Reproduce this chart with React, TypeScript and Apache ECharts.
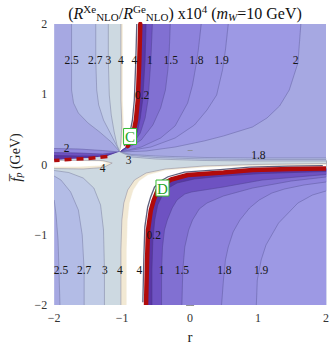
import React, { useEffect, useRef } from 'react';
import * as echarts from 'echarts';

type P = [number, number];

// ---------- axis ----------
const AXIS_MIN = -2;
const AXIS_MAX = 2;
const AXIS_STEP = 1;

// ---------- red curves (ratio -> 0) ----------
const R1_UP: P[] = [[-0.733, 2.0], [-0.747, 1.488], [-0.769, 0.918], [-0.797, 0.633], [-0.840, 0.420], [-0.918, 0.263], [-1.032, 0.178]];
const R1_LEFT: P[] = [[-1.217, 0.114], [-1.502, 0.085], [-1.786, 0.071], [-2.0, 0.057]];
const R2: P[] = [[-0.648, -2.0], [-0.633, -1.359], [-0.619, -0.932], [-0.577, -0.648], [-0.534, -0.505], [-0.477, -0.363], [-0.391, -0.278], [-0.278, -0.214], [-0.036, -0.149], [0.491, -0.114], [0.918, -0.078], [1.488, -0.064], [2.0, -0.057]];

// ---------- upper-left contours (2.5, 2.7, 3, 4, >4) ----------
const UL_25: P[] = [[-1.744, 2.0], [-1.744, 1.488], [-1.744, 1.060], [-1.715, 0.875], [-1.644, 0.733], [-1.502, 0.591], [-1.331, 0.463], [-1.160, 0.320], [-1.032, 0.178]];
const UL_27: P[] = [[-1.388, 2.0], [-1.388, 1.488], [-1.374, 1.060], [-1.345, 0.847], [-1.274, 0.633], [-1.160, 0.420], [-1.032, 0.178]];
const UL_3: P[] = [[-1.203, 2.0], [-1.203, 1.488], [-1.189, 0.989], [-1.160, 0.705], [-1.117, 0.463], [-1.075, 0.278], [-1.032, 0.178]];
const UL_4: P[] = [[-1.018, 2.0], [-1.018, 1.488], [-1.018, 0.918], [-1.004, 0.562], [-1.018, 0.320], [-1.032, 0.178]];
const UL_INF: P[] = [[-0.989, 2.0], [-0.989, 0.918], [-0.975, 0.562], [-0.989, 0.320], [-1.032, 0.178]];

// ---------- left band above the red curve (2, 1.5, 0.2) ----------
const BAND_2: P[] = [[-2.0, 0.228], [-1.644, 0.221], [-1.288, 0.199], [-1.032, 0.178]];
const BAND_15: P[] = [[-2.0, 0.171], [-1.644, 0.164], [-1.288, 0.149], [-1.032, 0.178]];
const BAND_02: P[] = [[-2.0, 0.128], [-1.644, 0.121], [-1.288, 0.121], [-1.032, 0.178]];

// ---------- upper-right contours (2, 1.9, 1.8, 1.5, 1, 0.2) ----------
const UR_2: P[] = [[1.630, 2.0], [1.587, 1.445], [1.459, 1.060], [1.317, 0.833], [1.132, 0.662], [0.918, 0.534], [0.491, 0.406], [0.206, 0.335], [-0.221, 0.249], [-0.648, 0.192], [-1.032, 0.178]];
const UR_19: P[] = [[0.562, 2.0], [0.520, 1.630], [0.477, 1.345], [0.391, 0.989], [0.249, 0.776], [0.064, 0.562], [-0.221, 0.377], [-0.577, 0.249], [-1.032, 0.178]];
const UR_18: P[] = [[0.164, 2.0], [0.121, 1.630], [0.093, 1.445], [0.036, 1.132], [-0.036, 0.875], [-0.221, 0.548], [-0.434, 0.377], [-0.719, 0.249], [-1.032, 0.178]];
const UR_15: P[] = [[-0.292, 2.0], [-0.306, 1.630], [-0.327, 1.345], [-0.363, 1.060], [-0.434, 0.804], [-0.548, 0.562], [-0.719, 0.349], [-0.932, 0.221], [-1.032, 0.178]];
const UR_1: P[] = [[-0.555, 2.0], [-0.577, 1.488], [-0.619, 0.918], [-0.662, 0.662], [-0.733, 0.448], [-0.847, 0.292], [-1.032, 0.178]];
const UR_02: P[] = [[-0.648, 2.0], [-0.662, 1.488], [-0.698, 0.918], [-0.733, 0.662], [-0.776, 0.463], [-0.861, 0.306], [-1.032, 0.178]];

// ---------- lower-left contours and stripes above the lower-right branch ----------
const LL_25: P[] = [[-2.0, -0.505], [-1.972, -0.719], [-1.943, -1.075], [-1.929, -1.502], [-1.915, -2.0]];
const LL_27: P[] = [[-2.0, -0.164], [-1.900, -0.221], [-1.758, -0.391], [-1.644, -0.648], [-1.587, -1.004], [-1.559, -1.502], [-1.559, -2.0]];
const LL_3: P[] = [[-2.0, -0.085], [-1.786, -0.114], [-1.573, -0.192], [-1.416, -0.335], [-1.317, -0.577], [-1.274, -0.932], [-1.260, -1.502], [-1.260, -2.0]];
const STRIPE_25: P[] = [[2.0, 0.093], [0.918, 0.093], [0.206, 0.100], [-0.505, 0.121], [-0.861, 0.142], [-1.032, 0.178]];
const STRIPE_27: P[] = [[2.0, 0.071], [0.918, 0.071], [0.206, 0.078], [-0.505, 0.100], [-0.861, 0.128], [-1.032, 0.178]];
const STRIPE_3: P[] = [[2.0, 0.050], [0.918, 0.050], [0.206, 0.057], [-0.505, 0.078], [-0.861, 0.107], [-1.032, 0.178]];
const W1H_4: P[] = [[-2.0, 0.057], [-1.644, 0.057], [-1.288, 0.057], [-1.146, 0.021], [-1.274, -0.043], [-1.573, -0.064], [-2.0, -0.057]];
const W1H_INF: P[] = [[-2.0, 0.050], [-1.644, 0.050], [-1.331, 0.043], [-1.231, 0.021], [-1.331, -0.014], [-1.644, -0.028], [-2.0, -0.028]];
const W2_4: P[] = [[-1.018, -2.0], [-1.018, -1.217], [-1.004, -0.790], [-0.975, -0.548], [-0.918, -0.363], [-0.819, -0.221], [-0.648, -0.121], [-0.363, -0.064], [0.206, -0.021], [0.918, 0.0], [2.0, 0.014]];
const W2_INF: P[] = [[-0.932, -2.0], [-0.932, -1.217], [-0.918, -0.790], [-0.890, -0.548], [-0.833, -0.363], [-0.747, -0.235], [-0.619, -0.149], [-0.363, -0.085], [0.206, -0.043], [0.918, -0.021], [2.0, -0.007]];

// ---------- lower-right contours (1.9, 1.8, 1.5, 1, 0.2) ----------
const LR_19: P[] = [[2.0, -0.377], [1.801, -0.434], [1.587, -0.548], [1.302, -0.833], [1.117, -1.146], [1.046, -1.359], [0.989, -1.644], [0.975, -2.0]];
const LR_18: P[] = [[2.0, -0.249], [1.673, -0.292], [1.388, -0.349], [1.203, -0.406], [1.018, -0.505], [0.875, -0.619], [0.733, -0.790], [0.633, -0.961], [0.562, -1.174], [0.520, -1.359], [0.491, -1.644], [0.463, -2.0]];
const LR_15: P[] = [[2.0, -0.178], [1.488, -0.235], [0.918, -0.335], [0.491, -0.448], [0.249, -0.548], [0.135, -0.633], [0.036, -0.790], [-0.021, -0.932], [-0.078, -1.174], [-0.107, -1.502], [-0.121, -2.0]];
const LR_1: P[] = [[2.0, -0.142], [1.060, -0.221], [0.491, -0.320], [0.021, -0.391], [-0.078, -0.420], [-0.192, -0.505], [-0.263, -0.619], [-0.335, -0.790], [-0.377, -0.932], [-0.406, -1.174], [-0.420, -1.502], [-0.420, -2.0]];
const LR_02: P[] = [[2.0, -0.100], [1.060, -0.128], [0.491, -0.164], [0.064, -0.206], [-0.192, -0.263], [-0.320, -0.335], [-0.406, -0.434], [-0.477, -0.577], [-0.520, -0.790], [-0.548, -1.075], [-0.562, -1.502], [-0.562, -2.0]];

// ---------- texts ----------
const LABEL_TEXT = ['2.5', '2.7', '3', '4', '4', '1', '1.5', '1.8', '1.9', '2', '0.2', '2', '3', '4', '1.8', '0.2', '2.5', '2.7', '3', '4', '4', '1', '1.5', '1.8', '1.9'];
const LABEL_POS: P[] = [
  [-1.744, 1.488], [-1.395, 1.488], [-1.203, 1.488], [-1.018, 1.488], [-0.819, 1.488],
  [-0.591, 1.488], [-0.285, 1.488], [0.093, 1.488], [0.463, 1.488], [1.552, 1.488],
  [-0.705, 0.989], [-1.815, 0.235], [-0.904, 0.064], [-1.288, -0.050], [1.004, 0.135], [-0.534, -1.004],
  [-1.900, -1.502], [-1.559, -1.502], [-1.253, -1.502], [-1.032, -1.502], [-0.747, -1.502],
  [-0.420, -1.502], [-0.121, -1.502], [0.505, -1.502], [1.046, -1.502],
];
const MARK_TEXT = ['C', 'D'];
const MARK_POS: P[] = [[-0.883, 0.399], [-0.406, -0.335]];
const TITLE = '{n|(}{i|R}{sup|Xe}{sub|NLO}{n|/}{i|R}{sup|Ge}{sub|NLO}{n|) x10}{sup|4}{n| (}{i|m}{subi|W}{n|=10 GeV)}';
const Y_NAME = '{fi|f\u0305}{sub|p}{n| (GeV)}';
const X_NAME = 'r';

// ---------- styles ----------
const FONT = 'Liberation Serif, serif';
const C = {
  L0: '#a6a8e2', L1: '#b3bce6', L2: '#c0cbe6', L3: '#cdd9e1', CREAM: '#f2e9d4', WHITE: '#ffffff',
  P5: '#9d99e4', P4: '#9690e1', P3: '#8e83dc', P2: '#8170d2', P1: '#6e52c2', P0: '#5a36a6',
  RED: '#b10b0b', LINE: 'rgba(60,60,110,0.42)', SQUEEZE: 'rgba(40,40,80,0.75)',
};

const rev = (a: P[]) => a.slice().reverse();

let zc = 1;
function region(fill: string, parts: [P[], boolean][]) {
  const data: P[] = [];
  const ranges: [number, number][] = [];
  parts.forEach(([pts, stroke]) => {
    const s = data.length;
    data.push(...pts);
    if (stroke) ranges.push([s, data.length]);
  });
  return {
    type: 'custom', coordinateSystem: 'cartesian2d', clip: true, silent: true, z: zc++,
    encode: { x: 0, y: 1 }, data,
    renderItem: (params: any, api: any) => {
      if (params.dataIndex !== 0) return null;
      const pts = data.map((p) => api.coord(p));
      const children: any[] = [{ type: 'polygon', shape: { points: pts }, style: { fill, stroke: fill, lineWidth: 0.4 } }];
      ranges.forEach(([a, b]) => children.push({ type: 'polyline', shape: { points: pts.slice(a, b) }, style: { fill: 'none', stroke: C.LINE, lineWidth: 0.7 } }));
      return { type: 'group', children };
    },
  };
}

function offsetLine(pts: P[], dx: number, dy: number) {
  return {
    type: 'custom', coordinateSystem: 'cartesian2d', clip: true, silent: true, z: zc++,
    encode: { x: 0, y: 1 }, data: pts,
    renderItem: (params: any, api: any) => {
      if (params.dataIndex !== 0) return null;
      const q = pts.map((p) => { const c = api.coord(p); return [c[0] + dx, c[1] + dy]; });
      return { type: 'polyline', shape: { points: q }, style: { fill: 'none', stroke: C.SQUEEZE, lineWidth: 1.3 } };
    },
  };
}

function buildOption() {
  zc = 1;
  const R1b = rev(R1_UP);
  const R2b = rev(R2);
  const corner: P[] = [[2.0, -2.0]];
  const series: any[] = [
    region(C.L1, [[UL_25, true], [R1b, false]]),
    region(C.L2, [[UL_27, true], [R1b, false]]),
    region(C.L3, [[UL_3, true], [R1b, false]]),
    region(C.CREAM, [[UL_4, true], [R1b, false]]),
    region(C.WHITE, [[UL_INF, false], [R1b, false]]),
    region('#9088dc', [[BAND_2, true], [R1_LEFT, false]]),
    region(C.P1, [[BAND_15, true], [R1_LEFT, false]]),
    region(C.P0, [[BAND_02, true], [R1_LEFT, false]]),
    region(C.P5, [[UR_2, true], [R1b, false]]),
    region(C.P4, [[UR_19, true], [R1b, false]]),
    region(C.P3, [[UR_18, true], [R1b, false]]),
    region(C.P2, [[UR_15, true], [R1b, false]]),
    region(C.P1, [[UR_1, true], [R1b, false]]),
    region(C.P0, [[UR_02, true], [R1b, false]]),
    region(C.L1, [[LL_25, true], [corner, false], [STRIPE_25, true], [R1_LEFT, false]]),
    region(C.L2, [[LL_27, true], [corner, false], [STRIPE_27, true], [R1_LEFT, false]]),
    region(C.L3, [[LL_3, true], [corner, false], [STRIPE_3, true], [R1_LEFT, false]]),
    region(C.CREAM, [[W1H_4, true]]),
    region(C.WHITE, [[W1H_INF, false]]),
    region(C.CREAM, [[W2_4, true], [R2b, false]]),
    region(C.WHITE, [[W2_INF, false], [R2b, false]]),
    region(C.P5, [[R2, false], [corner, false]]),
    region(C.P4, [[LR_19, true], [R2, false]]),
    region(C.P3, [[LR_18, true], [R2, false]]),
    region(C.P2, [[LR_15, true], [R2, false]]),
    region(C.P1, [[LR_1, true], [R2, false]]),
    region(C.P0, [[LR_02, true], [R2, false]]),
    offsetLine(R1_UP.slice(0, 6), -3.5, 0),
    offsetLine(R2, -3.2, -2.8),
  ];
  series.push(
    { type: 'line', data: R1_UP.slice(0, 6), showSymbol: false, silent: true, z: 80, lineStyle: { color: C.RED, width: 4.5, cap: 'round' } },
    { type: 'line', data: R1_LEFT, showSymbol: false, silent: true, z: 80, lineStyle: { color: C.RED, width: 3.5, type: [7, 5] } },
    { type: 'line', data: R2, showSymbol: false, silent: true, z: 80, lineStyle: { color: C.RED, width: 4.5 } },
    {
      type: 'custom', coordinateSystem: 'cartesian2d', silent: true, z: 90, encode: { x: 0, y: 1 }, data: LABEL_POS,
      renderItem: (params: any, api: any) => {
        const c = api.coord([api.value(0), api.value(1)]);
        return {
          type: 'text', x: c[0], y: c[1],
          style: { text: LABEL_TEXT[params.dataIndex], fontFamily: FONT, fontSize: 11.5, fill: '#161616', align: 'center', verticalAlign: 'middle' },
        };
      },
    },
    {
      type: 'custom', coordinateSystem: 'cartesian2d', silent: true, z: 95, encode: { x: 0, y: 1 }, data: MARK_POS,
      renderItem: (params: any, api: any) => {
        const c = api.coord([api.value(0), api.value(1)]);
        return {
          type: 'group', x: c[0], y: c[1],
          children: [
            { type: 'rect', shape: { x: -6.5, y: -8, width: 13, height: 16 }, style: { fill: '#ffffff', stroke: '#33bb33', lineWidth: 1 } },
            { type: 'text', x: 0, y: 0.5, style: { text: MARK_TEXT[params.dataIndex], fontFamily: FONT, fontSize: 15, fill: '#1ea51e', align: 'center', verticalAlign: 'middle' } },
          ],
        };
      },
    },
  );

  const fmt = (v: number) => (v < 0 ? '\u2212' + Math.abs(v) : String(v));
  const tick = { show: true, length: 4, lineStyle: { color: '#777', width: 0.8 } };
  const minor = { show: true, splitNumber: 5, length: 2.5, lineStyle: { color: '#888', width: 0.8 } };
  const base = {
    type: 'value', min: AXIS_MIN, max: AXIS_MAX, interval: AXIS_STEP,
    axisLine: { show: false }, axisTick: tick, minorTick: minor,
    splitLine: { show: false }, minorSplitLine: { show: false },
  };
  const labelStyle = { fontFamily: FONT, fontSize: 12, color: '#333', formatter: fmt };

  return {
    animation: false,
    grid: { left: 45, top: 24, width: 281, height: 281, show: true, backgroundColor: C.L0, borderWidth: 0 },
    xAxis: [
      { ...base, position: 'bottom', axisLabel: { ...labelStyle, margin: 7 },
        name: X_NAME, nameLocation: 'middle', nameGap: 24, nameTextStyle: { fontFamily: FONT, fontSize: 15, color: '#222' } },
      { ...base, position: 'top', axisLabel: { show: false } },
    ],
    yAxis: [
      { ...base, position: 'left', axisLabel: { ...labelStyle, margin: 7 },
        name: Y_NAME, nameLocation: 'middle', nameRotate: 90, nameGap: 23,
        nameTextStyle: {
          fontFamily: FONT, fontSize: 14, color: '#222', padding: [0, 0, 0, 14],
          rich: {
            fi: { fontFamily: FONT, fontSize: 15, fontStyle: 'italic', color: '#222' },
            sub: { fontFamily: FONT, fontSize: 10, fontStyle: 'italic', color: '#222', padding: [6, 0, 0, 0] },
            n: { fontFamily: FONT, fontSize: 14, color: '#222' },
          },
        } },
      { ...base, position: 'right', axisLabel: { show: false } },
    ],
    graphic: [{
      type: 'text', x: 185, y: 13, silent: true,
      style: {
        text: TITLE, align: 'center', verticalAlign: 'middle', fontFamily: FONT, fontSize: 16, fill: '#111',
        rich: {
          n: { fontFamily: FONT, fontSize: 16, fill: '#111' },
          i: { fontFamily: FONT, fontSize: 16, fontStyle: 'italic', fill: '#111' },
          sup: { fontFamily: FONT, fontSize: 11, fill: '#111', padding: [0, 0, 9, 0] },
          sub: { fontFamily: FONT, fontSize: 11, fill: '#111', padding: [7, 0, 0, 0] },
          subi: { fontFamily: FONT, fontSize: 11, fontStyle: 'italic', fill: '#111', padding: [7, 0, 0, 0] },
        },
      },
    }],
    series,
  };
}

export default function App() {
  const ref = useRef<HTMLDivElement>(null);
  useEffect(() => {
    if (!ref.current) return;
    const chart = echarts.init(ref.current, null, { renderer: 'svg' });
    chart.setOption(buildOption() as any);
    return () => chart.dispose();
  }, []);
  return (
    <div
      ref={ref}
      style={{ position: 'fixed', left: 0, top: 0, width: 332, height: 350, background: '#fff' }}
    />
  );
}
